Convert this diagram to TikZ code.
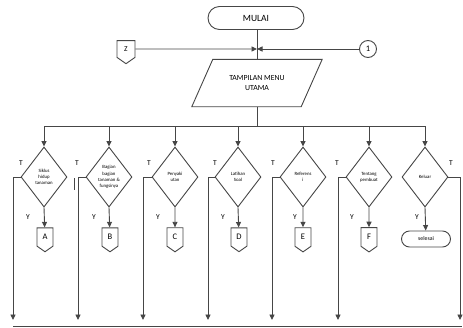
\documentclass[tikz,border=0pt]{standalone}
\usepackage{fontspec}
\setmainfont{Carlito}
\usetikzlibrary{shapes.geometric,shapes.symbols,shapes.misc,arrows.meta}
\definecolor{lc}{RGB}{70,70,70}
\begin{document}
\begin{tikzpicture}[x=1pt,y=-1pt,
  line/.style={draw=lc, line width=0.9pt},
  arr/.style={line, -{Triangle[length=5.5pt,width=5pt]}},
  term/.style={rounded rectangle, line, inner sep=0pt},
  decision/.style={diamond, line, minimum width=46pt, minimum height=60pt, inner sep=0pt, align=center, font=\fontsize{4.8}{6.2}\selectfont},
  offpage/.style={signal, signal to=south, signal pointer angle=110, line, minimum width=16pt, minimum height=20pt, inner sep=0pt, font=\fontsize{8.5}{8.5}\selectfont},
  lbl/.style={inner sep=0pt, font=\fontsize{7.5}{7.5}\selectfont}
]
\useasboundingbox (0,0) rectangle (463,327);

% top
\node[term, minimum width=96pt, minimum height=23pt, font=\fontsize{9.5}{9.5}\selectfont] (mulai) at (256,18) {MULAI};
\coordinate (j) at (257,49);
\node[offpage, minimum width=18pt, minimum height=18pt, font=\fontsize{7.5}{7.5}\selectfont] (z) at (126,49) {Z};
\node[circle, line, minimum size=17pt, inner sep=0pt, font=\fontsize{8.5}{8.5}\selectfont] (one) at (368,49) {1};
\node[minimum width=109pt, minimum height=47pt, inner sep=0pt, align=center, font=\fontsize{7.8}{9.8}\selectfont] (menu) at (257,83) {TAMPILAN MENU\\UTAMA};
\draw[line] ([xshift=10.5pt]menu.north west) -- ([xshift=10.5pt]menu.north east) -- ([xshift=-10.5pt]menu.south east) -- ([xshift=-10.5pt]menu.south west) -- cycle;

\draw[line] (mulai.south -| menu.north) -- (menu.north);
\draw[arr] (z) -- (j);
\draw[arr] (one) -- (j);

% bus
\coordinate (bus) at (257,126);
\draw[line] (menu.south) -- (bus);

% decisions
\node[decision] (d1) at (44,177) {Siklus\\hidup\\tanaman};
\node[decision] (d2) at (109,177) {Bagian\\bagian\\tanaman \&\\fungsinya};
\node[decision] (d3) at (175,177) {Penyaki\\utan};
\node[decision] (d4) at (238,177) {Latihan\\Soal};
\node[decision] (d5) at (303,177) {Referens\\i};
\node[decision] (d6) at (369,177) {Tentang\\pembuat};
\node[decision] (d7) at (425,177) {Keluar};

\draw[line] (d1 |- bus) -- (d7 |- bus);
\foreach \d in {d1,d2,d3,d4,d5,d6,d7}{
  \draw[arr] (\d |- bus) -- (\d.north);
}

% targets
\node[offpage] (a) at (45,237) {A};
\node[offpage] (b) at (110,237) {B};
\node[offpage] (c) at (175,237) {C};
\node[offpage] (d) at (239,237) {D};
\node[offpage] (e) at (303,237) {E};
\node[offpage] (f) at (369,237) {F};
\node[term, minimum width=49pt, minimum height=16pt, font=\fontsize{5.8}{5.8}\selectfont] (sel) at (426,239) {selesai};

\draw[arr] (d1.south) -- (a);
\draw[arr] (d2.south) -- (b);
\draw[arr] (d3.south) -- (c);
\draw[arr] (d4.south) -- (d);
\draw[arr] (d5.south) -- (e);
\draw[arr] (d6.south) -- (f);
\draw[arr] (d7.south) -- (sel);

% exits
\coordinate (b1) at (13,320);
\coordinate (b2) at (78,320);
\coordinate (b3) at (143,320);
\coordinate (b4) at (208,320);
\coordinate (b5) at (272,320);
\coordinate (b6) at (338,320);
\coordinate (b7) at (460,320);
\draw[arr] (d1.west) -| (b1);
\draw[arr] (d2.west) -| (b2);
\draw[arr] (d3.west) -| (b3);
\draw[arr] (d4.west) -| (b4);
\draw[arr] (d5.west) -| (b5);
\draw[arr] (d6.west) -| (b6);
\draw[arr] (d7.east) -| (b7);

\coordinate (bl) at (13,326);
\coordinate (br) at (462,326);
\draw[line] (bl) -- (br);

\draw[draw=lc, line width=1.6pt] (74.5,178) -- (74.5,190);

% labels
\node[lbl] (t1) at (21,163) {T};
\node[lbl] (t2) at (77,163) {T};
\node[lbl] (t3) at (149,163) {T};
\node[lbl] (t4) at (215,163) {T};
\node[lbl] (t5) at (273,163) {T};
\node[lbl] (t6) at (337,163) {T};
\node[lbl] (t7) at (451,163) {T};
\node[lbl] (y1) at (28,217) {Y};
\node[lbl] (y2) at (94,217) {Y};
\node[lbl] (y3) at (158,217) {Y};
\node[lbl] (y4) at (223,217) {Y};
\node[lbl] (y5) at (295,217) {Y};
\node[lbl] (y6) at (352,217) {Y};
\node[lbl] (y7) at (417,217) {Y};
\end{tikzpicture}
\end{document}
